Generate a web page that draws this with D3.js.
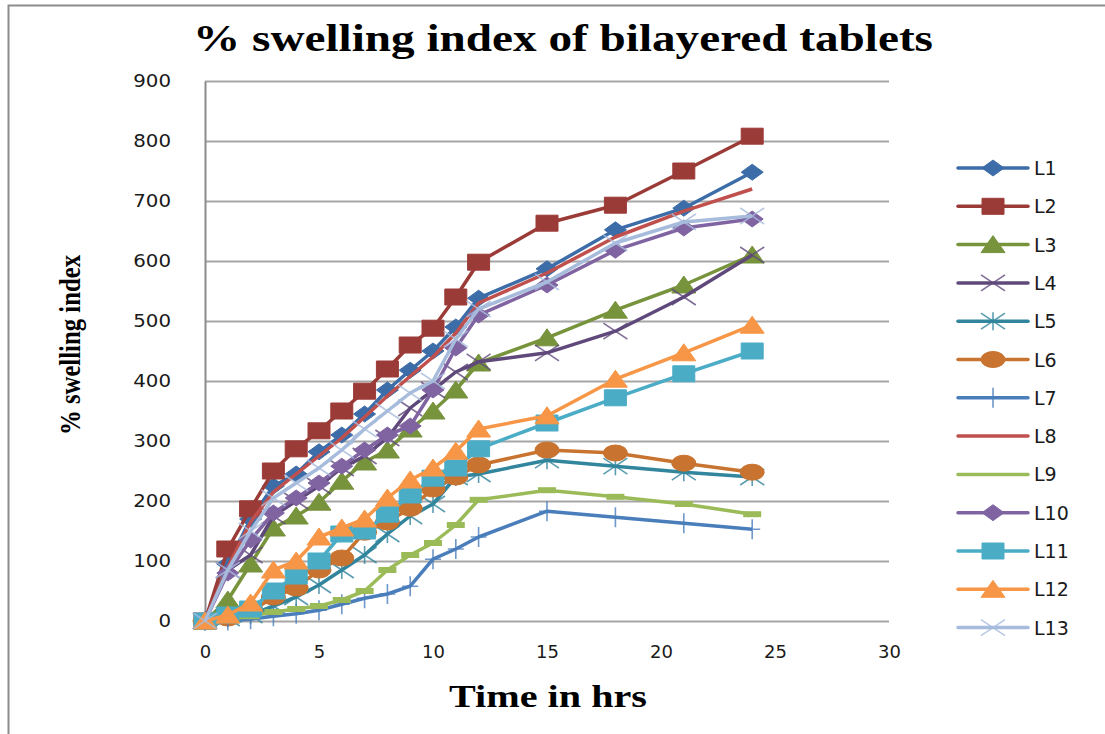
<!DOCTYPE html>
<html>
<head>
<meta charset="utf-8">
<script src="https://cdn.jsdelivr.net/npm/d3@7"></script>
<style>
body{margin:0;background:#fff;}
svg{display:block;}
</style>
</head>
<body>
<svg id="chart"></svg>
<script>
let hours=[0,1,2,3,4,5,6,7,8,9,10,11,12,15,18,21,24];
let L1=[0,95,170,225,245,282,310,345,385,418,450,490,538,587,652,688,748];
let L2=[0,120,187,250,287,317,350,383,420,460,488,540,598,663,693,750,808];
let L3=[0,35,95,155,175,198,233,265,285,320,350,385,430,472,518,560,610];
let L4=[0,85,110,175,200,225,255,275,305,355,385,415,432,447,483,540,610];
let L5=[0,5,10,25,40,60,85,110,145,175,195,240,245,268,258,248,240];
let L6=[0,5,15,40,55,85,105,148,165,188,220,240,260,285,280,263,248];
let L7=[0,1,3,8,12,18,28,38,45,58,103,120,140,183,173,163,153];
let L8=[0,90,165,215,245,275,305,340,375,408,440,480,530,580,640,683,720];
let L9=[0,3,8,15,20,25,35,50,85,110,130,160,202,218,207,195,178];
let L10=[0,80,135,180,205,230,258,285,310,325,385,455,510,560,618,655,670];
let L11=[0,10,20,50,75,100,145,150,178,210,238,255,287,330,372,412,450];
let L12=[0,10,30,85,100,140,155,170,205,235,255,283,320,342,403,447,493];
let L13=[0,85,150,205,230,255,285,320,350,380,400,470,520,565,630,665,675];
let seriesNames=['L1','L2','L3','L4','L5','L6','L7','L8','L9','L10','L11','L12','L13'];
let seriesColors=['#3d6da8','#9b3b37','#77933c','#5f497a','#31859c','#c8732f','#4a7ebb','#c0504d','#9bbb59','#8064a2','#4bacc6','#f79646','#a7bcdc'];
let seriesMarkers=['diamond','square','triangle','x','star','circle','plus','none','dash','diamond','square','triangle','x'];
let yTicks=[0,100,200,300,400,500,600,700,800,900];
let xTicks=[0,5,10,15,20,25,30];

let width=1105;
let height=734;
let svg=d3.select('#chart').attr('width',width).attr('height',height);
let allSeries=[L1,L2,L3,L4,L5,L6,L7,L8,L9,L10,L11,L12,L13];

let xScale=d3.scaleLinear().domain([0,30]).range([205,889]);
let yScale=d3.scaleLinear().domain([0,900]).range([621,81]);

// chart frame
svg.append('path')
   .attr('d','M8.5,740 L8.5,5.5 L1110,5.5')
   .attr('fill','none')
   .attr('stroke','#8c8c8c')
   .attr('stroke-width',2);

// title
svg.append('text')
   .attr('x',563).attr('y',51)
   .attr('text-anchor','middle')
   .attr('font-family','Liberation Serif')
   .attr('font-weight','bold')
   .attr('font-size',37)
   .attr('textLength',740)
   .attr('lengthAdjust','spacingAndGlyphs')
   .text('% swelling index of bilayered tablets');

// grid
svg.append('g').selectAll('line')
   .data(yTicks)
   .enter().append('line')
   .attr('x1',xScale(0)).attr('x2',xScale(30))
   .attr('y1',d=>yScale(d)+0.5).attr('y2',d=>yScale(d)+0.5)
   .attr('stroke','#a6a6a6')
   .attr('stroke-width',2);

let yAxis=d3.axisLeft(yScale).tickValues(yTicks).tickSize(0).tickPadding(34);
let yg=svg.append('g').attr('transform','translate('+xScale(0)+',0)').call(yAxis);
yg.select('.domain').attr('stroke','#8c8c8c').attr('stroke-width',2);
yg.selectAll('text').attr('font-family','DejaVu Sans').attr('font-size',18).attr('fill','#1a1a1a')
  .attr('transform','scale(1.1,1)').attr('x',-34/1.1);

let xAxis=d3.axisBottom(xScale).tickValues(xTicks).tickSize(0).tickPadding(24);
let xg=svg.append('g').attr('transform','translate(0,'+yScale(0)+')').call(xAxis);
xg.select('.domain').remove();
xg.selectAll('text').attr('font-family','DejaVu Sans').attr('font-size',18).attr('fill','#1a1a1a');

// axis titles
svg.append('text')
   .attr('transform','translate(80,345) rotate(-90)')
   .attr('text-anchor','middle')
   .attr('font-family','Liberation Serif')
   .attr('font-weight','bold')
   .attr('font-size',30)
   .attr('textLength',180)
   .attr('lengthAdjust','spacingAndGlyphs')
   .text('% swelling index');

svg.append('text')
   .attr('x',548).attr('y',707)
   .attr('text-anchor','middle')
   .attr('font-family','Liberation Serif')
   .attr('font-weight','bold')
   .attr('font-size',31)
   .attr('textLength',198)
   .attr('lengthAdjust','spacingAndGlyphs')
   .text('Time in hrs');

let markerPath=(type)=>{
    if(type==='diamond') return 'M-11,0 L0,-8 L11,0 L0,8 Z';
    if(type==='square') return 'M-11,-8 L11,-8 L11,8 L-11,8 Z';
    if(type==='triangle') return 'M0,-9 L12,8 L-12,8 Z';
    if(type==='circle') return 'M-12,0 A12,8 0 1,0 12,0 A12,8 0 1,0 -12,0 Z';
    if(type==='x') return 'M-12,-8 L12,8 M-12,8 L12,-8';
    if(type==='star') return 'M-12,-8 L12,8 M-12,8 L12,-8 M0,-9 L0,9';
    if(type==='plus') return 'M-8,0 L8,0 M0,-10 L0,10';
    if(type==='dash') return 'M-9,0 L9,0';
    return null;
}
let filled=(type)=>['diamond','square','triangle','circle'].includes(type);

let drawMarker=(g,type,color)=>{
    let p=markerPath(type);
    if(!p) return;
    if(filled(type)){
        g.append('path').attr('d',p).attr('fill',color).attr('stroke',color).attr('stroke-width',1);
    }else{
        g.append('path').attr('d',p).attr('fill','none').attr('stroke',color)
         .attr('stroke-width',type==='dash'?6:1.6).attr('opacity',type==='dash'?1:0.8);
    }
}

let line=d3.line()
           .x(d=>xScale(d[0]))
           .y(d=>yScale(d[1]));

allSeries.forEach((vals,i)=>{
    let pts=hours.map((h,j)=>[h,vals[j]]);
    let g=svg.append('g').attr('class','series');
    g.append('path')
     .attr('d',line(pts))
     .attr('fill','none')
     .attr('stroke',seriesColors[i])
     .attr('stroke-width',3.5)
     .attr('stroke-linejoin','round');
    pts.forEach(p=>{
        let mg=g.append('g').attr('transform','translate('+xScale(p[0])+','+yScale(p[1])+')');
        drawMarker(mg,seriesMarkers[i],seriesColors[i]);
    })
});

// legend
let legend=svg.append('g');
seriesNames.forEach((name,i)=>{
    let y=168+i*38.3;
    let g=legend.append('g').attr('transform','translate(0,'+y+')');
    g.append('line').attr('x1',958).attr('x2',1028).attr('y1',0).attr('y2',0)
     .attr('stroke',seriesColors[i]).attr('stroke-width',3.5).attr('stroke-linecap','round');
    let mg=g.append('g').attr('transform','translate(993,0)');
    if(seriesMarkers[i]!=='dash') drawMarker(mg,seriesMarkers[i],seriesColors[i]);
    g.append('text').attr('x',1034).attr('y',7)
     .attr('font-family','DejaVu Sans').attr('font-size',19).attr('fill','#1a1a1a')
     .text(name);
});
</script>
</body>
</html>
